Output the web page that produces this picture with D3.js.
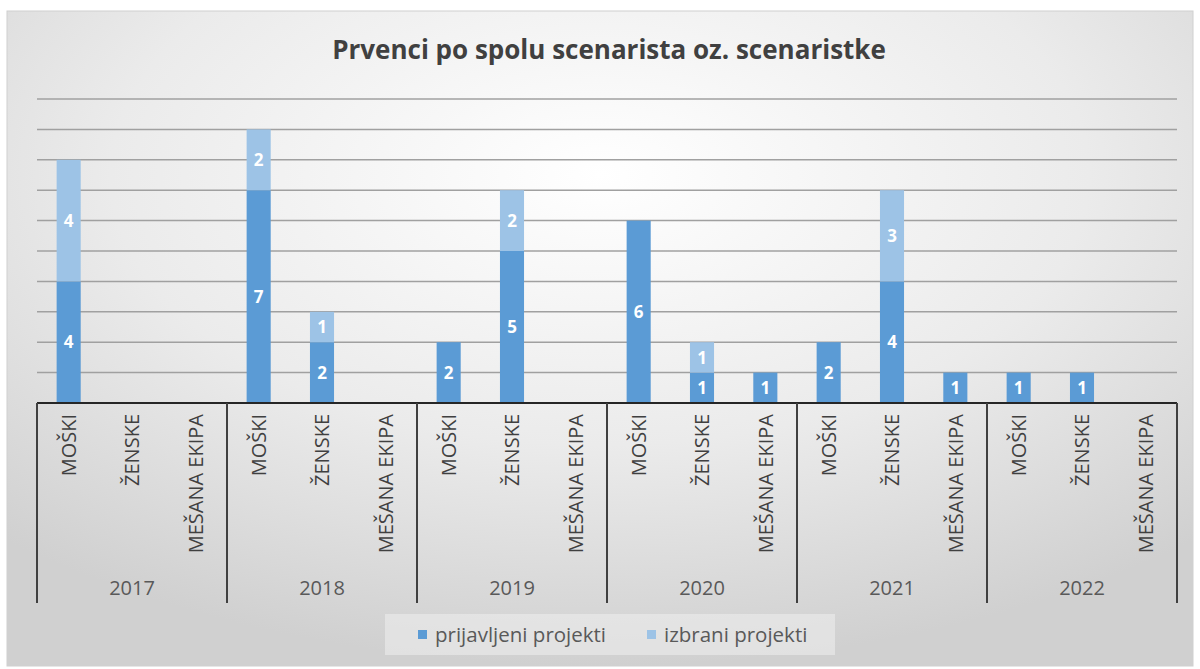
<!DOCTYPE html>
<html>
<head>
<meta charset="utf-8">
<script src="https://cdn.jsdelivr.net/npm/d3@7"></script>
<style>
  body { margin: 0; background: #fff; }
  text { font-family: "Open Sans", "Noto Sans", sans-serif; }
</style>
</head>
<body>
<div id="chart"></div>
<script>
// data
const years = ["2017", "2018", "2019", "2020", "2021", "2022"];
const categories = ["MOŠKI", "ŽENSKE", "MEŠANA EKIPA"];
const seriesNames = ["prijavljeni projekti", "izbrani projekti"];
// one value per year x category, in order
const prijavljeni = [4, 0, 0, 7, 2, 0, 2, 5, 0, 6, 1, 1, 2, 4, 1, 1, 1, 0];
const izbrani = [4, 0, 0, 2, 1, 0, 0, 2, 0, 0, 1, 0, 0, 3, 0, 0, 0, 0];
const yTicks = [0, 1, 2, 3, 4, 5, 6, 7, 8, 9, 10];

const colors = ["#5b9bd5", "#9dc3e6"];
const width = 1200, height = 669;
const margin = { top: 99, right: 23, bottom: 266, left: 37 };

const svg = d3.select("#chart").append("svg")
  .attr("width", width)
  .attr("height", height);

// background of the chart area
const defs = svg.append("defs");
const grad = defs.append("radialGradient")
  .attr("id", "bg")
  .attr("cx", "50%").attr("cy", "25%").attr("r", "75%");
grad.append("stop").attr("offset", "0%").attr("stop-color", "#ffffff");
grad.append("stop").attr("offset", "55%").attr("stop-color", "#ebebeb");
grad.append("stop").attr("offset", "100%").attr("stop-color", "#d0d0d0");

svg.append("rect")
  .attr("x", 7).attr("y", 11)
  .attr("width", 1186).attr("height", 655)
  .attr("fill", "url(#bg)")
  .attr("stroke", "#d0d0d0");

svg.append("text")
  .attr("x", 609).attr("y", 59)
  .attr("text-anchor", "middle")
  .attr("font-size", 26)
  .attr("font-weight", "bold")
  .attr("fill", "#404040")
  .text("Prvenci po spolu scenarista oz. scenaristke");

const plotW = width - margin.left - margin.right;
const baseY = 403;

const x0 = d3.scaleBand().domain(years).range([margin.left, margin.left + plotW]);
const x1 = d3.scaleBand().domain(categories).range([0, x0.bandwidth()]).paddingInner(0.62).paddingOuter(0.31);
const y = d3.scaleLinear().domain([0, 10]).range([baseY, margin.top]);

// gridlines
svg.append("g")
  .selectAll("line")
  .data(yTicks.slice(1))
  .join("line")
  .attr("x1", margin.left).attr("x2", margin.left + plotW)
  .attr("y1", (d) => y(d)).attr("y2", (d) => y(d))
  .attr("stroke", "#a0a0a0")
  .attr("stroke-width", 1.5);

// build rows
const rows = [];
years.forEach((yr, i) => {
  categories.forEach((c, j) => {
    const k = i * categories.length + j;
    rows.push({ year: yr, cat: c, prijavljeni: prijavljeni[k], izbrani: izbrani[k] });
  });
});

const stack = d3.stack().keys(["prijavljeni", "izbrani"]);
const stacked = stack(rows);

const groups = svg.append("g")
  .selectAll("g")
  .data(stacked)
  .join("g")
  .attr("fill", (d, i) => colors[i]);

groups.selectAll("rect")
  .data((d) => d)
  .join("rect")
  .attr("x", (d) => x0(d.data.year) + x1(d.data.cat))
  .attr("width", x1.bandwidth())
  .attr("y", (d) => y(d[1]))
  .attr("height", (d) => y(d[0]) - y(d[1]));

// value labels
groups.selectAll("text")
  .data((d) => d.filter((s) => s[1] - s[0] > 0))
  .join("text")
  .attr("x", (d) => x0(d.data.year) + x1(d.data.cat) + x1.bandwidth() / 2)
  .attr("y", (d) => (y(d[0]) + y(d[1])) / 2)
  .attr("dy", "0.36em")
  .attr("text-anchor", "middle")
  .attr("font-size", 17)
  .attr("font-weight", "bold")
  .attr("fill", "#ffffff")
  .text((d) => d[1] - d[0]);

// axis line
svg.append("line")
  .attr("x1", margin.left).attr("x2", margin.left + plotW)
  .attr("y1", baseY).attr("y2", baseY)
  .attr("stroke", "#262626").attr("stroke-width", 2);

// group separators
const seps = years.map((d) => x0(d)).concat([margin.left + plotW]);
svg.append("g")
  .selectAll("line")
  .data(seps)
  .join("line")
  .attr("x1", (d) => d).attr("x2", (d) => d)
  .attr("y1", baseY).attr("y2", 603)
  .attr("stroke", "#404040").attr("stroke-width", 2);

// category labels
const catLabels = svg.append("g");
years.forEach((yr) => {
  categories.forEach((c) => {
    const cx = x0(yr) + x1(c) + x1.bandwidth() / 2;
    catLabels.append("text")
      .attr("transform", `translate(${cx},414) rotate(-90)`)
      .attr("text-anchor", "end")
      .attr("dy", "0.36em")
      .attr("font-size", 20)
      .attr("fill", "#404040")
      .text(c);
  });
});

// year labels
svg.append("g")
  .selectAll("text")
  .data(years)
  .join("text")
  .attr("x", (d) => x0(d) + x0.bandwidth() / 2)
  .attr("y", 595)
  .attr("text-anchor", "middle")
  .attr("font-size", 20)
  .attr("fill", "#595959")
  .text((d) => d);

// legend
svg.append("rect")
  .attr("x", 385).attr("y", 614)
  .attr("width", 450).attr("height", 41)
  .attr("fill", "#ececec").attr("opacity", 0.6);

const legendX = [418, 647];
const legend = svg.append("g")
  .selectAll("g")
  .data(seriesNames)
  .join("g")
  .attr("transform", (d, i) => `translate(${legendX[i]},635)`);
legend.append("rect")
  .attr("x", 0).attr("y", -5)
  .attr("width", 9).attr("height", 9)
  .attr("fill", (d, i) => colors[i]);
legend.append("text")
  .attr("x", 17).attr("dy", "0.35em")
  .attr("font-size", 20.5)
  .attr("fill", "#595959")
  .text((d) => d);
</script>
</body>
</html>
